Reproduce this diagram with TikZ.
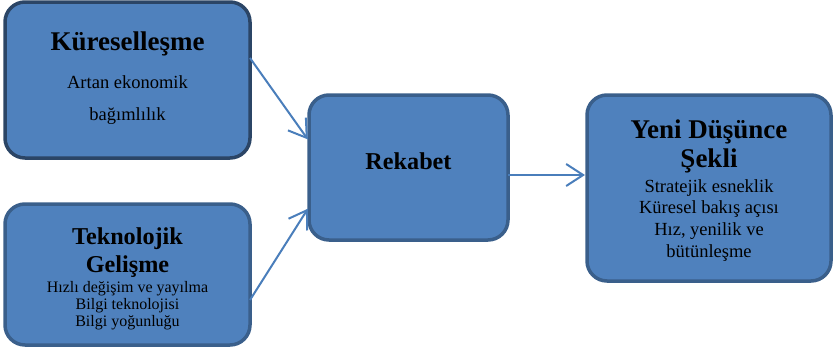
\documentclass[tikz,border=0pt]{standalone}
\usepackage{fontspec}
\setmainfont{Liberation Serif}
\usetikzlibrary{arrows.meta, positioning, calc}
\definecolor{boxfill}{HTML}{4F81BD}
\definecolor{boxline}{HTML}{3A5F8B}
\definecolor{boxlinedark}{HTML}{2B4566}
\definecolor{linkblue}{HTML}{4A7EBB}
\tikzset{
  box/.style={draw=boxline, fill=boxfill, line width=3.5pt, rounded corners=20pt, inner sep=0pt, outer sep=0pt},
  head/.style={font=\fontsize{27}{28.5}\selectfont\bfseries, align=center, inner sep=0pt},
  headsm/.style={head, font=\fontsize{24.2}{28.5}\selectfont\bfseries},
  body/.style={align=center, inner sep=0pt},
  link/.style={linkblue, line width=2pt, -{Straight Barb[length=17pt,width=22pt]}, shorten >=2pt}
}

\begin{document}
\begin{tikzpicture}[x=1pt, y=-1pt]
  \useasboundingbox (0,0) rectangle (835,354);

  % boxes
  \node[box, draw=boxlinedark, minimum width=245pt, minimum height=156pt] (glob) at (127.5,80) {};
  \node[box, minimum width=245pt, minimum height=141pt] (tech) at (127.5,274.5) {};
  \node[box, minimum width=199pt, minimum height=145pt] (comp) at (408.5,167.5) {};
  \node[box, minimum width=244pt, minimum height=186pt] (newt) at (709,188) {};

  % texts
  \node[head, below=30pt of glob.north] (globh) {Küreselleşme};
  \node[body, font=\fontsize{18.5}{32}\selectfont, below=19pt of globh] (globb) {Artan ekonomik\\bağımlılık};

  \node[headsm, below=23.5pt of tech.north] (techh) {Teknolojik\\Gelişme};
  \node[body, font=\fontsize{16}{17}\selectfont, below=3pt of techh] (techb) {Hızlı değişim ve yayılma\\Bilgi teknolojisi\\Bilgi yoğunluğu};

  \node[headsm, below=57.5pt of comp.north] (comph) {Rekabet};

  \node[head, below=25pt of newt.north] (newth) {Yeni Düşünce\\Şekli};
  \node[body, font=\fontsize{18.5}{21.7}\selectfont, below=6pt of newth] (newtb) {Stratejik esneklik\\Küresel bakış açısı\\Hız, yenilik ve\\bütünleşme};

  % arrows
  \coordinate (out) at ([yshift=-7.5pt]comp.east);
  \draw[link] ([yshift=22pt]glob.east) -- ([yshift=26.5pt]comp.west);
  \draw[link] ([yshift=-25.5pt]tech.east) -- ([yshift=-39.5pt]comp.west);
  \draw[link] (out) -- (out -| newt.west);
\end{tikzpicture}
\end{document}
